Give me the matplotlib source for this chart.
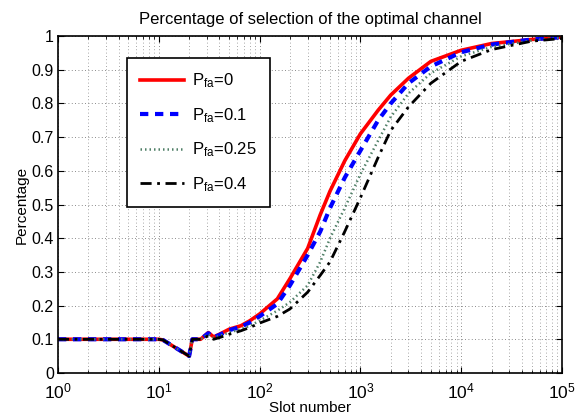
import numpy as np
from matplotlib import pyplot as plt

# slot numbers (log axis)
slots = [1, 10, 11, 20, 21.5, 26, 31, 35, 40, 50, 65, 80, 100, 150, 200, 300,
         400, 500, 700, 1000, 1500, 2000, 3000, 5000, 10000, 20000, 50000, 100000]

p0 = [0.1, 0.1, 0.098, 0.05, 0.1, 0.1, 0.12, 0.107, 0.115, 0.13, 0.14, 0.155,
      0.175, 0.22, 0.28, 0.37, 0.47, 0.54, 0.63, 0.71, 0.78, 0.825, 0.875,
      0.925, 0.958, 0.978, 0.99, 0.997]
p01 = [0.1, 0.1, 0.098, 0.05, 0.1, 0.1, 0.118, 0.106, 0.113, 0.127, 0.137, 0.15,
       0.168, 0.205, 0.26, 0.35, 0.42, 0.49, 0.58, 0.66, 0.75, 0.8, 0.86,
       0.91, 0.952, 0.975, 0.99, 0.997]
p025 = [0.1, 0.1, 0.098, 0.05, 0.1, 0.1, 0.115, 0.105, 0.11, 0.12, 0.13, 0.14,
        0.155, 0.185, 0.21, 0.26, 0.33, 0.4, 0.49, 0.59, 0.69, 0.76, 0.83,
        0.89, 0.94, 0.968, 0.987, 0.996]
p04 = [0.1, 0.1, 0.098, 0.05, 0.1, 0.1, 0.11, 0.1, 0.105, 0.115, 0.125, 0.135,
       0.148, 0.168, 0.19, 0.24, 0.29, 0.33, 0.42, 0.52, 0.64, 0.72, 0.79,
       0.86, 0.925, 0.96, 0.985, 0.993]

labels = ['0', '0.1', '0.25', '0.4']

plt.rcParams['font.family'] = ['Liberation Sans', 'DejaVu Sans']
plt.rcParams['mathtext.fontset'] = 'custom'
plt.rcParams['mathtext.rm'] = 'Liberation Sans'

fig = plt.figure(figsize=(5.77, 4.2), dpi=100)
ax = fig.add_axes([0.1005, 0.112, 0.8735, 0.802])

ax.plot(slots, p0, color='red', lw=2.6, ls='-', label=r'$\mathregular{P_{fa}}$=' + labels[0])
ax.plot(slots, p01, color='blue', lw=3, ls=(0, (2, 1.6)), label=r'$\mathregular{P_{fa}}$=' + labels[1])
ax.plot(slots, p025, color='#4f7f66', lw=1.8, ls=(0, (0.6, 1.2)), label=r'$\mathregular{P_{fa}}$=' + labels[2])
ax.plot(slots, p04, color='black', lw=2, ls=(0, (4, 2, 1, 2)), label=r'$\mathregular{P_{fa}}$=' + labels[3])

ax.set_xscale('log')
ax.set_xlim(1, 1e5)
ax.set_ylim(0, 1)
ax.set_yticks(np.arange(0, 1.01, 0.1))
ax.set_yticklabels(['0', '0.1', '0.2', '0.3', '0.4', '0.5', '0.6', '0.7', '0.8', '0.9', '1'])
ax.grid(True, which='major', ls=(0, (1, 3)), color='#666666', lw=0.6)
ax.grid(True, which='minor', axis='x', ls=(0, (1, 3)), color='#888888', lw=0.6)
ax.tick_params(which='both', direction='in', top=True, right=True)
ax.tick_params(axis='y', labelsize=11.5, pad=3)
ax.tick_params(axis='x', labelsize=12.5, pad=6)
ax.tick_params(which='major', length=4)
ax.tick_params(which='minor', length=2)
for s in ax.spines.values():
    s.set_linewidth(1.2)

ax.set_title('Percentage of selection of the optimal channel', fontsize=12, pad=9)
ax.set_xlabel('Slot number', fontsize=11, labelpad=0)
ax.set_ylabel('Percentage', fontsize=11, labelpad=2)

leg = ax.legend(loc='upper left', bbox_to_anchor=(0.137, 0.935), fontsize=12,
                fancybox=False, framealpha=1, edgecolor='black',
                handlelength=2.6, handletextpad=0.5, labelspacing=0.95,
                borderpad=0.8, borderaxespad=0)
leg.get_frame().set_linewidth(1.2)

plt.savefig('out.png', dpi=100)
